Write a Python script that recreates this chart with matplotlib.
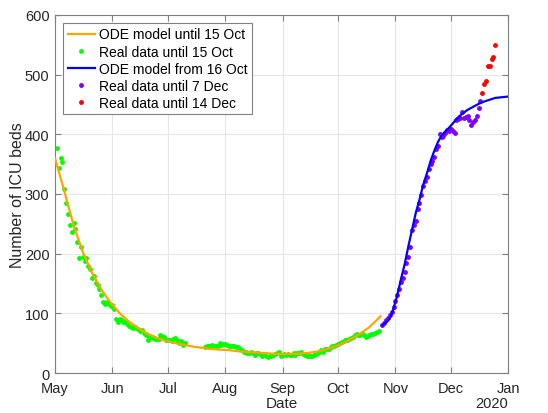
from datetime import datetime, timedelta

import pandas as pd
from matplotlib import pyplot as plt
import matplotlib.dates as mdates

# days counted from 1 May 2020
start = datetime(2020, 5, 1)

# real data until 15 Oct (two runs, gap in July)
green_run1_start = "2020-05-02"
green_run1 = [377, 344, 361, 353, 308, 285, 267, 248, 236, 252, 242, 219, 193, 212, 195,
              188, 193, 180, 174, 160, 163, 151, 148, 140, 130, 119, 116, 119, 116, 113,
              114, 107, 90, 85, 90, 88, 85, 86, 82, 79, 77, 75, 77, 76, 74, 71, 72, 67,
              63, 56, 60, 60, 58, 57, 57, 57, 63, 62, 60, 55, 55, 55, 54, 57, 59, 55, 51,
              53, 47, 50]
green_run2_start = "2020-07-21"
green_run2 = [43, 45, 46, 46, 47, 46, 45, 45, 51, 47, 48,
              48, 47, 46, 45, 45, 46, 44, 43, 41, 39, 36, 35, 34, 34, 35, 33, 31, 34, 33,
              32, 29, 30, 28, 26, 28, 29, 31, 32, 34, 36, 29, 31, 32, 30, 32, 31, 30, 34,
              31, 33, 34, 36, 32, 30, 29, 28, 29, 29, 30, 32, 34, 37, 39, 36, 40, 40, 41,
              43, 45, 46,
              47, 49, 51, 52, 54, 55, 56, 57, 58, 61, 63, 65, 64, 64, 67, 63, 60, 62, 63,
              65, 66, 67, 69, 70]

# real data until 7 Dec
purple_start = "2020-10-25"
purple = [80, 84, 88, 93, 97, 103, 110, 121, 130, 140, 152, 160, 170, 184, 195, 211, 240,
          248, 255, 275, 285, 298, 314, 322, 328, 342, 350, 355, 362, 375, 381, 400, 396,
          398, 403, 408, 406, 409, 406, 403, 424, 425, 427, 437, 428, 429, 430, 424, 416,
          420, 424, 431, 444, 456]

# real data until 14 Dec
red_start = "2020-12-18"
red = [470, 484, 489, 515, 515, 526, 529, 549]

# ODE model until 15 Oct
orange_days = [0, 5, 10, 15, 20, 25, 30, 35, 40, 45, 50, 55, 60, 65, 70, 75, 80, 85, 90,
               95, 100, 105, 110, 115, 120, 125, 130, 135, 140, 145, 150, 155, 160, 165,
               170, 175, 176]
orange_vals = [360, 305, 248, 203, 168, 140, 118, 100, 86, 75, 66, 59, 54, 50, 47, 44, 42,
               40, 39, 38, 36, 35, 34, 33, 32, 32, 32, 33, 35, 38, 43, 49, 57, 66, 77, 92, 95]

# ODE model from 16 Oct
blue_days = [177, 179, 181, 183, 185, 187, 189, 191, 193, 195, 197, 199, 201, 203, 205,
             207, 209, 211, 213, 215, 217, 220, 223, 226, 229, 232, 235, 238, 241, 244,
             248, 253]
blue_vals = [80, 85, 92, 108, 130, 157, 182, 212, 240, 268, 290, 315, 334, 355, 372, 387,
             398, 405, 411, 418, 426, 434, 441, 446, 451, 455, 458, 461, 462, 463, 464, 465]

if __name__ == "__main__":
    plt.rcParams["font.family"] = ["Liberation Sans", "DejaVu Sans"]
    plt.rcParams["font.size"] = 10

    fig = plt.figure(figsize=(5.48, 4.14), dpi=100)
    ax = fig.add_axes([0.1004, 0.0966, 0.827, 0.8648])

    def run(first, n):
        return pd.date_range(first, periods=n, freq="D")

    orange_dates = [start + timedelta(days=d) for d in orange_days]
    blue_dates = [start + timedelta(days=d) for d in blue_days]

    ms = 3.5
    ax.plot(orange_dates, orange_vals, color="#ffa500", lw=1.6,
            label="ODE model until 15 Oct", zorder=3)
    ax.plot(run(green_run1_start, len(green_run1)), green_run1, "o", color="#00ff00",
            ms=ms, mec="none", label="Real data until 15 Oct", zorder=2)
    ax.plot(run(green_run2_start, len(green_run2)), green_run2, "o", color="#00ff00",
            ms=ms, mec="none", zorder=2)
    ax.plot(blue_dates, blue_vals, color="#0000ff", lw=1.6,
            label="ODE model from 16 Oct", zorder=3)
    ax.plot(run(purple_start, len(purple)), purple, "o", color="#8000ff",
            ms=ms, mec="none", label="Real data until 7 Dec", zorder=2)
    ax.plot(run(red_start, len(red)), red, "o", color="#ff0000",
            ms=ms, mec="none", label="Real data until 14 Dec", zorder=2)

    ax.set_xlim(datetime(2020, 5, 1), datetime(2021, 1, 1))
    ax.set_ylim(0, 600)
    ax.set_yticks(range(0, 601, 100))
    ax.xaxis.set_major_locator(mdates.MonthLocator())
    ax.xaxis.set_major_formatter(mdates.DateFormatter("%b"))

    ax.grid(True, color="#e6e6e6", lw=0.8)
    ax.set_axisbelow(True)
    for s in ax.spines.values():
        s.set_color("#808080")
        s.set_linewidth(0.8)
    ax.tick_params(direction="in", length=4, colors="#808080", labelcolor="#262626",
                   top=True, right=True, labelsize=10.5)
    ax.tick_params(axis="x", pad=6)
    ax.tick_params(axis="y", pad=4)

    ax.set_xlabel("Date", fontsize=11, color="#262626", va="center")
    ax.xaxis.set_label_coords(0.5, -0.084)
    ax.set_ylabel("Number of ICU beds", fontsize=11.5, color="#262626", va="center")
    ax.yaxis.set_label_coords(-0.083, 0.5)
    ax.text(1.0, -0.084, "2020", transform=ax.transAxes, ha="right", va="center",
            fontsize=10.5, color="#262626")

    leg = ax.legend(loc="upper left", fancybox=False, framealpha=1, edgecolor="#808080",
                    fontsize=10, handlelength=2.0, handletextpad=0.3,
                    borderaxespad=0.6, labelspacing=0.22, borderpad=0.3)
    leg.get_frame().set_linewidth(0.8)

    fig.savefig("out.png", dpi=100)
